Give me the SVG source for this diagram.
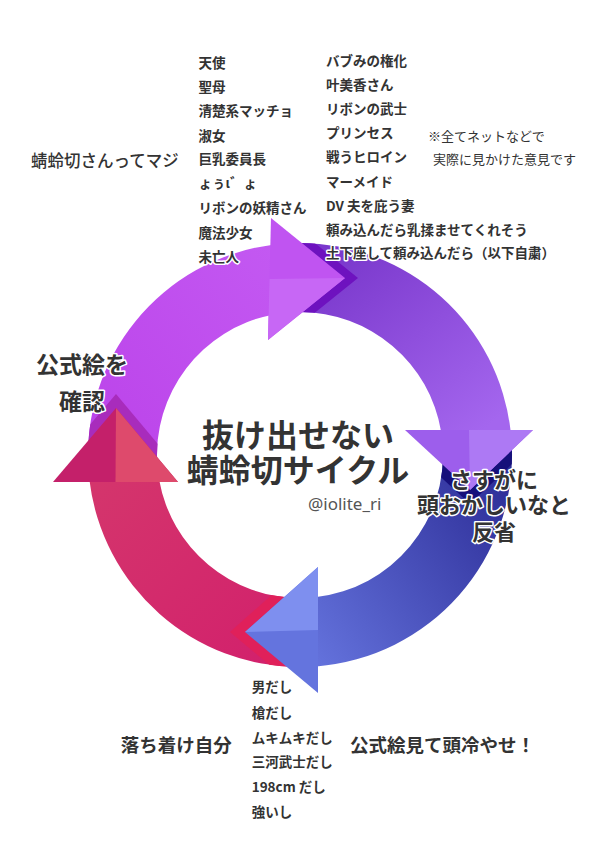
<svg xmlns="http://www.w3.org/2000/svg" width="595" height="842" viewBox="0 0 595 842">
<style>
.t{font-family:"Noto Sans CJK JP","Noto Sans",sans-serif;fill:#333;stroke:#fff;stroke-width:3;paint-order:stroke;stroke-linejoin:round}
.l{font-size:13.5px;font-weight:700}
.n{font-size:13px;font-weight:400;stroke:none}
.b{font-weight:700}
</style>
<defs>
<clipPath id="band"><path clip-rule="evenodd" d="M512,455 A212,212 0 1,1 88,455 A212,212 0 1,1 512,455 Z M443,455 A143,143 0 1,0 157,455 A143,143 0 1,0 443,455 Z"/></clipPath>
<linearGradient id="gTop" gradientUnits="userSpaceOnUse" x1="90" y1="470" x2="340" y2="260"><stop offset="0" stop-color="#bb42e9"/><stop offset="1" stop-color="#c45cf3"/></linearGradient>
<linearGradient id="gRight" gradientUnits="userSpaceOnUse" x1="330" y1="260" x2="470" y2="440"><stop offset="0" stop-color="#7a38cc"/><stop offset="1" stop-color="#a466ee"/></linearGradient>
<linearGradient id="gBlue" gradientUnits="userSpaceOnUse" x1="500" y1="460" x2="260" y2="640"><stop offset="0" stop-color="#2c2c96"/><stop offset="1" stop-color="#6a7ae4"/></linearGradient>
<linearGradient id="gRed" gradientUnits="userSpaceOnUse" x1="290" y1="660" x2="110" y2="470"><stop offset="0" stop-color="#d2206c"/><stop offset="1" stop-color="#d4356c"/></linearGradient>
</defs>
<rect width="595" height="842" fill="#fff"/>
<g id="connectors">
  <g id="bodies">
    <path fill="url(#gTop)" d="M88.5,469.8 A212,212 0 0,1 271.5,244.9 L271.5,314.9 A143,143 0 0,0 157.3,465 Z"/>
    <path fill="url(#gRight)" d="M300,243 A212,212 0 0,1 510.7,431.5 L441.1,431.5 A143,143 0 0,0 300,312 Z"/>
    <path fill="url(#gBlue)" d="M511.8,445 A212,212 0 0,1 316.5,666.4 L316.5,597 A143,143 0 0,0 442.65,445 Z"/>
    <path fill="url(#gRed)" d="M300,667 A212,212 0 0,1 89.5,480.5 L159.3,480.5 A143,143 0 0,0 300,598 Z"/>
  </g>
  <g id="shadows" clip-path="url(#band)">
    <polygon fill="#6e12bf" points="284,218 358,278 281,340"/>
    <polygon fill="#16107a" points="405,444 533,444 470,504"/>
    <polygon fill="#e0205a" points="303,567 230,632 303,693"/>
    <polygon fill="#a82cbc" points="53,468 116,394 178,468"/>
  </g>
  <g id="heads">
    <polygon fill="#c054f1" points="271,218 345,278 268,340"/>
    <polygon fill="#c767f5" points="345,278 269.5,279 268,340"/>
    <polygon fill="#9d5eec" points="405,430 533,430 470,490"/>
    <polygon fill="#ad79f4" points="470,490 469,430 533,430"/>
    <polygon fill="#6474de" points="318,567 245,632 318,693"/>
    <polygon fill="#7e8fef" points="245,632 318,630 318,567"/>
    <polygon fill="#c4206a" points="53,482 116,408 178,482"/>
    <polygon fill="#de4a6c" points="116,408 115.5,482 178,482"/>
  </g>
</g>
<g id="title">
  <text class="t b" x="298" y="446.5" font-size="32" text-anchor="middle">抜け出せない</text>
  <text class="t b" x="298" y="481.5" font-size="32" text-anchor="middle">蜻蛉切サイクル</text>
  <text x="308" y="510" font-family="'Noto Sans',sans-serif" font-size="17" fill="#555">@iolite_ri</text>
</g>
<g id="node-question">
  <text class="t" x="31" y="166.7" font-size="16.5" font-weight="500">蜻蛉切さんってマジ</text>
</g>
<g id="list-top-left">
  <text class="t l" x="198.5" y="67.5">天使</text>
  <text class="t l" x="198.5" y="91.5">聖母</text>
  <text class="t l" x="198.5" y="116">清楚系マッチョ</text>
  <text class="t l" x="198.5" y="140.5">淑女</text>
  <text class="t l" x="198.5" y="164">巨乳委員長</text>
  <text class="t l" x="198.5" y="188">ょぅι゛ょ</text>
  <text class="t l" x="198.5" y="212.5">リボンの妖精さん</text>
  <text class="t l" x="198.5" y="237.5">魔法少女</text>
  <text class="t l" x="198.5" y="261.5">未亡人</text>
</g>
<g id="list-top-right">
  <text class="t l" x="326" y="65.5">バブみの権化</text>
  <text class="t l" x="326" y="90">叶美香さん</text>
  <text class="t l" x="326" y="114">リボンの武士</text>
  <text class="t l" x="326" y="138">プリンセス</text>
  <text class="t l" x="326" y="162">戦うヒロイン</text>
  <text class="t l" x="326" y="186.5">マーメイド</text>
  <text class="t l" x="326" y="210.5">DV 夫を庇う妻</text>
  <text class="t l" x="326" y="235">頼み込んだら乳揉ませてくれそう</text>
  <text class="t l" x="326" y="258">土下座して頼み込んだら（以下自粛）</text>
</g>
<g id="note">
  <text class="t n" x="428" y="141.4">※全てネットなどで</text>
  <text class="t n" x="433" y="163.7">実際に見かけた意見です</text>
</g>
<g id="node-check-official">
  <text class="t b" x="82" y="373.3" font-size="23" text-anchor="middle">公式絵を</text>
  <text class="t b" x="82" y="410" font-size="23" text-anchor="middle">確認</text>
</g>
<g id="node-reflect">
  <text class="t b" x="494" y="488" font-size="22" text-anchor="middle">さすがに</text>
  <text class="t b" x="494" y="513" font-size="22" text-anchor="middle">頭おかしいなと</text>
  <text class="t b" x="494" y="539.6" font-size="22" text-anchor="middle">反省</text>
</g>
<g id="node-calm">
  <text class="t b" x="120.7" y="751.7" font-size="18.5">落ち着け自分</text>
</g>
<g id="node-cool-head">
  <text class="t b" x="350" y="751.7" font-size="18.5">公式絵見て頭冷やせ！</text>
</g>
<g id="list-bottom">
  <text class="t l" x="251.7" y="691.6">男だし</text>
  <text class="t l" x="251.7" y="717.6">槍だし</text>
  <text class="t l" x="251.7" y="743.2">ムキムキだし</text>
  <text class="t l" x="251.7" y="766.6">三河武士だし</text>
  <text class="t l" x="251.7" y="791.6">198cm だし</text>
  <text class="t l" x="251.7" y="816.6">強いし</text>
</g>
</svg>
